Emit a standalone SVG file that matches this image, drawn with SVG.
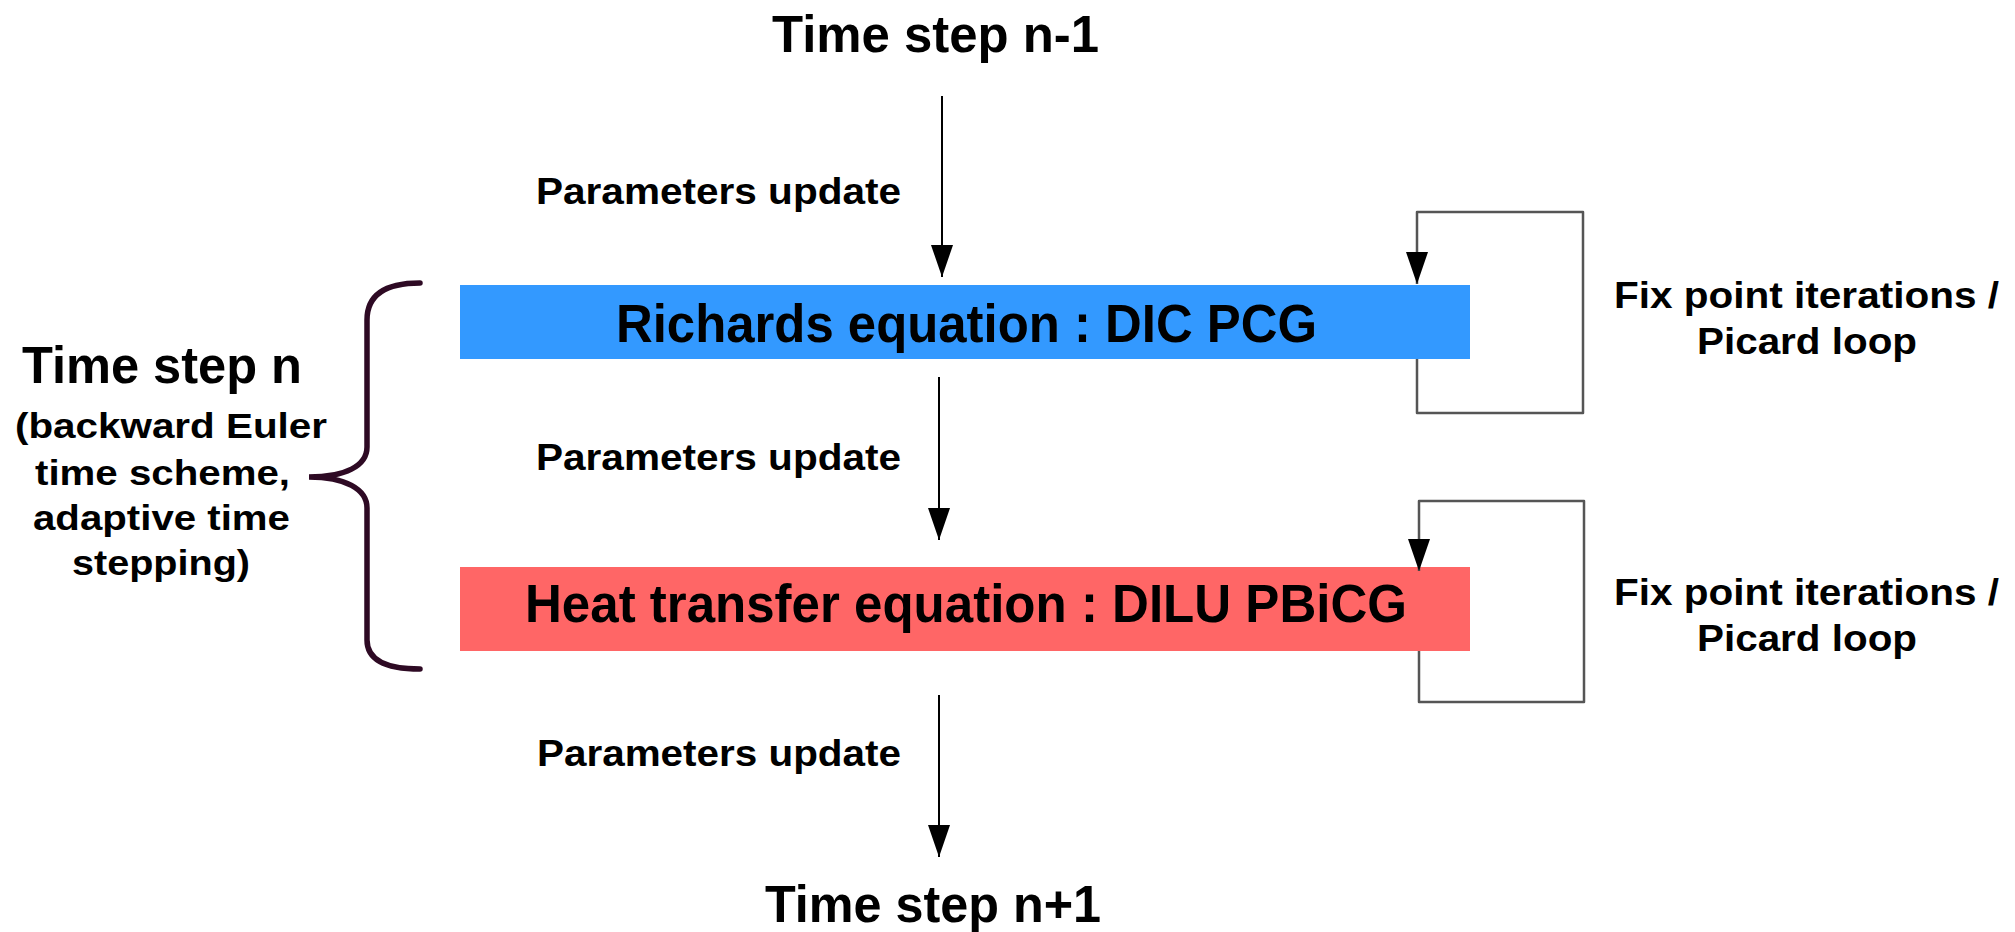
<svg xmlns="http://www.w3.org/2000/svg" width="2015" height="932" viewBox="0 0 2015 932">
<style>
  text { font-family: "Liberation Sans", Arial, sans-serif; font-weight: bold; fill: #000; }
  .big { font-size: 52px; }
  .eq { font-size: 53px; }
  .lbl { font-size: 37px; }
  .side { font-size: 35px; }
  .flow { stroke: #000; stroke-width: 2; fill: none; }
  .loop { stroke: #555; stroke-width: 2.5; fill: none; stroke-linejoin: round; }
  .brace { stroke: #2e0a24; stroke-width: 5.5; fill: none; stroke-linecap: round; }
</style>
<defs>
  <marker id="arr" viewBox="0 0 32 22" refX="32" refY="11" markerWidth="32" markerHeight="22" markerUnits="userSpaceOnUse" orient="auto">
    <path d="M0,0 L32,11 L0,22 z" fill="#000"/>
  </marker>
</defs>
<rect width="2015" height="932" fill="#fff"/>

<g id="step-prev">
  <text class="big" x="772" y="52" textLength="327" lengthAdjust="spacingAndGlyphs">Time step n-1</text>
</g>
<g id="step-next">
  <text class="big" x="765" y="922" textLength="336" lengthAdjust="spacingAndGlyphs">Time step n+1</text>
</g>

<g id="richards">
  <rect x="460" y="285" width="1010" height="74" fill="#3399ff"/>
  <text class="eq" x="616" y="342" textLength="701" lengthAdjust="spacingAndGlyphs">Richards equation : DIC PCG</text>
</g>
<g id="heat">
  <rect x="460" y="567" width="1010" height="84" fill="#ff6666"/>
  <text class="eq" x="525" y="622" textLength="882" lengthAdjust="spacingAndGlyphs">Heat transfer equation : DILU PBiCG</text>
</g>

<g id="time-step-n">
  <text class="big" x="22" y="383" textLength="280" lengthAdjust="spacingAndGlyphs">Time step n</text>
  <text class="side" x="15" y="438" textLength="312" lengthAdjust="spacingAndGlyphs">(backward Euler</text>
  <text class="side" x="35" y="485" textLength="255" lengthAdjust="spacingAndGlyphs">time scheme,</text>
  <text class="side" x="33" y="530" textLength="257" lengthAdjust="spacingAndGlyphs">adaptive time</text>
  <text class="side" x="72" y="575" textLength="178" lengthAdjust="spacingAndGlyphs">stepping)</text>
  <path class="brace" d="M420,283 C385,283 367,295 367,320 L367,447 C367,466 345,477 309,477 C345,477 367,489 367,508 L367,640 C367,660 385,669 420,669"/>
</g>

<g id="labels">
  <text class="lbl" x="536" y="204" textLength="365" lengthAdjust="spacingAndGlyphs">Parameters update</text>
  <text class="lbl" x="536" y="470" textLength="365" lengthAdjust="spacingAndGlyphs">Parameters update</text>
  <text class="lbl" x="537" y="766" textLength="364" lengthAdjust="spacingAndGlyphs">Parameters update</text>
  <text class="lbl" x="1614" y="308" textLength="385" lengthAdjust="spacingAndGlyphs">Fix point iterations /</text>
  <text class="lbl" x="1697" y="354" textLength="220" lengthAdjust="spacingAndGlyphs">Picard loop</text>
  <text class="lbl" x="1614" y="605" textLength="385" lengthAdjust="spacingAndGlyphs">Fix point iterations /</text>
  <text class="lbl" x="1697" y="651" textLength="220" lengthAdjust="spacingAndGlyphs">Picard loop</text>
</g>

<g id="connectors">
  <line class="flow" x1="942" y1="96" x2="942" y2="277" marker-end="url(#arr)"/>
  <line class="flow" x1="939" y1="377" x2="939" y2="540" marker-end="url(#arr)"/>
  <line class="flow" x1="939" y1="695" x2="939" y2="857" marker-end="url(#arr)"/>
  <path class="loop" d="M1417,359 L1417,413 L1583,413 L1583,212 L1417,212 L1417,284" marker-end="url(#arr)"/>
  <path class="loop" d="M1419,651 L1419,702 L1584,702 L1584,501 L1419,501 L1419,571" marker-end="url(#arr)"/>
</g>
</svg>
